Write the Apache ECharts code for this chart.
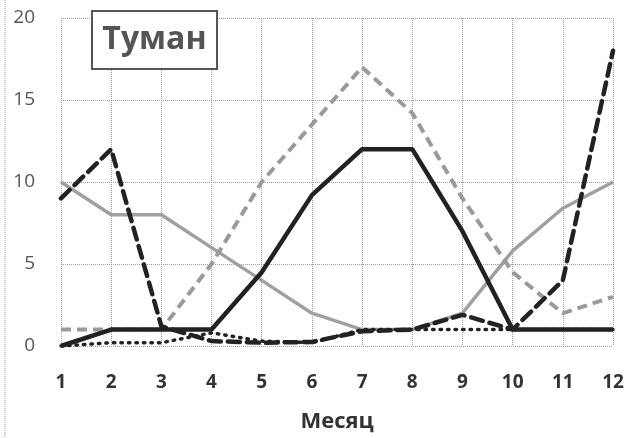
<!DOCTYPE html>
<html>
<head>
<meta charset="utf-8">
<script src="https://cdn.jsdelivr.net/npm/echarts@6/dist/echarts.min.js"></script>
<style>
html,body{margin:0;padding:0;background:#fff;}
#c{width:629px;height:438px;}
</style>
</head>
<body>
<div id="c"></div>
<script>
const months = [1,2,3,4,5,6,7,8,9,10,11,12];
const solidGray   = [10, 8, 8, 6, 4, 2, 1, 1, 2, 5.8, 8.4, 10];
const dashedGray  = [1, 1, 1, 5, 10, 13.5, 17, 14.2, 9, 4.5, 2, 3];
const dottedBlack = [0, 0.2, 0.2, 0.8, 0.3, 0.2, 1, 1, 1, 1, 1, 1];
const dashedBlack = [9, 12, 1.2, 0.3, 0.2, 0.25, 0.9, 1, 1.9, 1, 4, 18];
const solidBlack  = [0, 1, 1, 1, 4.5, 9.2, 12, 12, 7, 1, 1, 1];
const yTicks = [0, 5, 10, 15, 20];
const titleText = 'Туман';
const xName = 'Месяц';

const pairs = arr => months.map((m, i) => [m, arr[i]]);

const chart = echarts.init(document.getElementById('c'), null, {renderer: 'canvas'});
chart.setOption({
  animation: false,
  backgroundColor: '#fff',
  grid: {left: 61, right: 16, top: 18, bottom: 88},
  xAxis: {
    type: 'value', min: 1, max: 12, interval: 1,
    axisLine: {show: false}, axisTick: {show: false},
    axisLabel: {margin: 27, color: '#333', fontFamily: 'Open Sans', fontWeight: 'bold', fontSize: 19},
    splitLine: {show: true, lineStyle: {color: '#9a9a9a', type: [1, 1], width: 1}},
    name: xName, nameLocation: 'middle', nameGap: 65,
    nameTextStyle: {color: '#333', fontFamily: 'Open Sans', fontWeight: 'bold', fontSize: 22}
  },
  yAxis: {
    type: 'value', min: yTicks[0], max: yTicks[yTicks.length - 1], interval: 5,
    axisLine: {show: false}, axisTick: {show: false},
    axisLabel: {margin: 26, color: '#555', fontFamily: 'Open Sans', fontSize: 19},
    splitLine: {show: true, lineStyle: {color: '#9a9a9a', type: [1, 1], width: 1}}
  },
  graphic: [
    {type: 'line', shape: {x1: 5, y1: 0, x2: 5, y2: 438}, style: {stroke: '#999', lineWidth: 1, lineDash: [1, 1]}, z: 10},
    {type: 'rect', shape: {x: 92, y: 11, width: 125, height: 58}, style: {fill: '#fff', stroke: '#555', lineWidth: 2}, z: 100},
    {type: 'text', x: 154.5, y: 40, style: {text: titleText, fill: '#555', font: 'bold 32px "Open Sans"', textAlign: 'center', textVerticalAlign: 'middle'}, z: 101}
  ],
  series: [
    {type: 'line', data: pairs(solidGray), symbol: 'none', lineStyle: {color: '#a0a0a0', width: 3.5}, z: 2},
    {type: 'line', data: pairs(dashedGray), symbol: 'none', lineStyle: {color: '#9a9a9a', width: 4, type: [10, 6]}, z: 2},
    {type: 'line', data: pairs(dottedBlack), symbol: 'none', lineStyle: {color: '#222', width: 3.5, type: [1.5, 6], cap: 'round'}, z: 3},
    {type: 'line', data: pairs(dashedBlack), symbol: 'none', lineStyle: {color: '#222', width: 4.5, type: [12, 7], cap: 'round'}, z: 3},
    {type: 'line', data: pairs(solidBlack), symbol: 'none', lineStyle: {color: '#222', width: 4.5}, z: 3}
  ]
});
</script>
</body>
</html>
